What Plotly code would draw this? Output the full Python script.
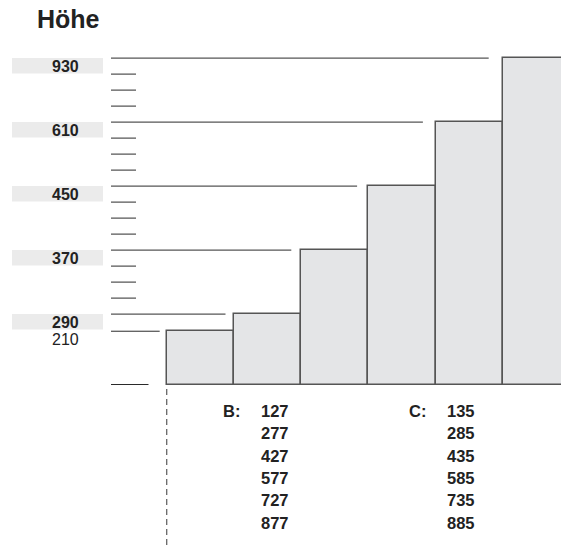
import plotly.graph_objects as go

# ---- data ----
levels = [210, 290, 370, 450, 610, 930]          # bar heights / axis labels
major_levels = [290, 370, 450, 610, 930]         # labelled levels with grey boxes
minor_level = 210                                 # unboxed label
b_label = "B:"
b_values = [127, 277, 427, 577, 727, 877]
c_label = "C:"
c_values = [135, 285, 435, 585, 735, 885]
title = "Höhe"

# ---- ordinal height scale (axis units = minor tick steps) ----
FIRST_MAJOR = 4.4
MAJOR_STEP = 4
pos = {v: FIRST_MAJOR + MAJOR_STEP * i for i, v in enumerate(major_levels)}
pos[minor_level] = pos[major_levels[0]] - 1.07

PAGE_W, PAGE_H = 561, 545
OFF = 0                      # body margin removed via post_script
W, H = PAGE_W - OFF, PAGE_H - OFF
BASE_PX = 384.5
UNIT = 16.0
BAR_W_PX = 67.2
BAR0_LEFT_PX = 166.7

def px_x(p):   # page pixel -> paper x
    return (p - OFF) / W

def px_y(p):   # page pixel -> paper y
    return 1 - (p - OFF) / H

def ax_x(p):   # page pixel -> x axis units
    return (p - BAR0_LEFT_PX) / BAR_W_PX - 0.5

xs = list(range(len(levels)))
ys = [pos[v] for v in levels]

fig = go.Figure()
fig.add_trace(go.Bar(
    x=xs, y=ys, width=1.0,
    marker=dict(color="#e4e5e7", line=dict(color="#555555", width=1.5)),
    hoverinfo="skip", showlegend=False,
))

shapes = []
annotations = []
LINE_COLOR = "#2a2a2a"
left_px = 111
FONT = "Liberation Sans, Arial, Helvetica"

# level lines reaching towards each bar
for i, v in enumerate(levels):
    gap_px = 7 + 1.4 * i
    x_end = xs[i] - 0.5 - gap_px / BAR_W_PX
    shapes.append(dict(type="line", xref="x", yref="y",
                       x0=ax_x(left_px), x1=x_end, y0=pos[v], y1=pos[v],
                       line=dict(color=LINE_COLOR, width=1)))

# minor ticks between majors
for a, b in zip(major_levels[:-1], major_levels[1:]):
    p0, p1 = pos[a], pos[b]
    for k in range(1, MAJOR_STEP):
        yv = p0 + (p1 - p0) * k / MAJOR_STEP
        shapes.append(dict(type="line", xref="x", yref="y",
                           x0=ax_x(left_px), x1=ax_x(136), y0=yv, y1=yv,
                           line=dict(color=LINE_COLOR, width=1)))

# baseline tick
shapes.append(dict(type="line", xref="x", yref="y",
                   x0=ax_x(left_px), x1=ax_x(148.5), y0=0, y1=0,
                   line=dict(color=LINE_COLOR, width=1)))

# label boxes + labels
for v in major_levels:
    shapes.append(dict(type="rect", xref="paper", yref="y",
                       x0=px_x(12), x1=px_x(103),
                       y0=pos[v] - 15.5 / UNIT, y1=pos[v],
                       fillcolor="#ebebeb", line=dict(width=0), layer="below"))
    annotations.append(dict(xref="paper", yref="y", x=px_x(81), y=pos[v] - 8.5 / UNIT,
                            text=str(v), showarrow=False, xanchor="right", yanchor="middle",
                            font=dict(family=FONT, size=16, color="#222222", weight="bold")))
annotations.append(dict(xref="paper", yref="y", x=px_x(81), y=pos[minor_level] - 8 / UNIT,
                        text=str(minor_level), showarrow=False, xanchor="right", yanchor="middle",
                        font=dict(family=FONT, size=16, color="#222222")))

# dashed vertical line below first bar
shapes.append(dict(type="line", xref="x", yref="paper",
                   x0=-0.5, x1=-0.5, y0=px_y(389), y1=0,
                   line=dict(color="#666666", width=1.3, dash="6px,4px")))

# title
annotations.append(dict(xref="paper", yref="paper", x=px_x(35), y=px_y(19),
                        text=title, showarrow=False, xanchor="left", yanchor="middle",
                        font=dict(family=FONT, size=25, color="#222222", weight="bold")))

# bottom value columns
ROW0, ROW_STEP = 411, 22.3
bold = dict(family=FONT, size=16.5, color="#222222", weight="bold")
for lab, vals, lab_right, val_left in [(b_label, b_values, 242, 259),
                                       (c_label, c_values, 428, 445)]:
    annotations.append(dict(xref="paper", yref="paper", x=px_x(lab_right), y=px_y(ROW0),
                            text=lab, showarrow=False, xanchor="right", yanchor="middle",
                            font=bold))
    for k, val in enumerate(vals):
        annotations.append(dict(xref="paper", yref="paper", x=px_x(val_left),
                                y=px_y(ROW0 + ROW_STEP * k),
                                text=str(val), showarrow=False, xanchor="left", yanchor="middle",
                                font=bold))

fig.update_layout(
    width=W, height=H,
    margin=dict(l=0, r=0, t=0, b=0),
    paper_bgcolor="white", plot_bgcolor="white",
    xaxis=dict(range=[ax_x(OFF), ax_x(OFF + W)], visible=False, fixedrange=True),
    yaxis=dict(range=[-(PAGE_H - BASE_PX) / UNIT, (BASE_PX - OFF) / UNIT],
               visible=False, fixedrange=True),
    shapes=shapes, annotations=annotations,
    bargap=0,
)

fig.write_html("out.html", config={"displayModeBar": False},
               post_script="document.body.style.margin='0';document.body.style.overflow='hidden';")
